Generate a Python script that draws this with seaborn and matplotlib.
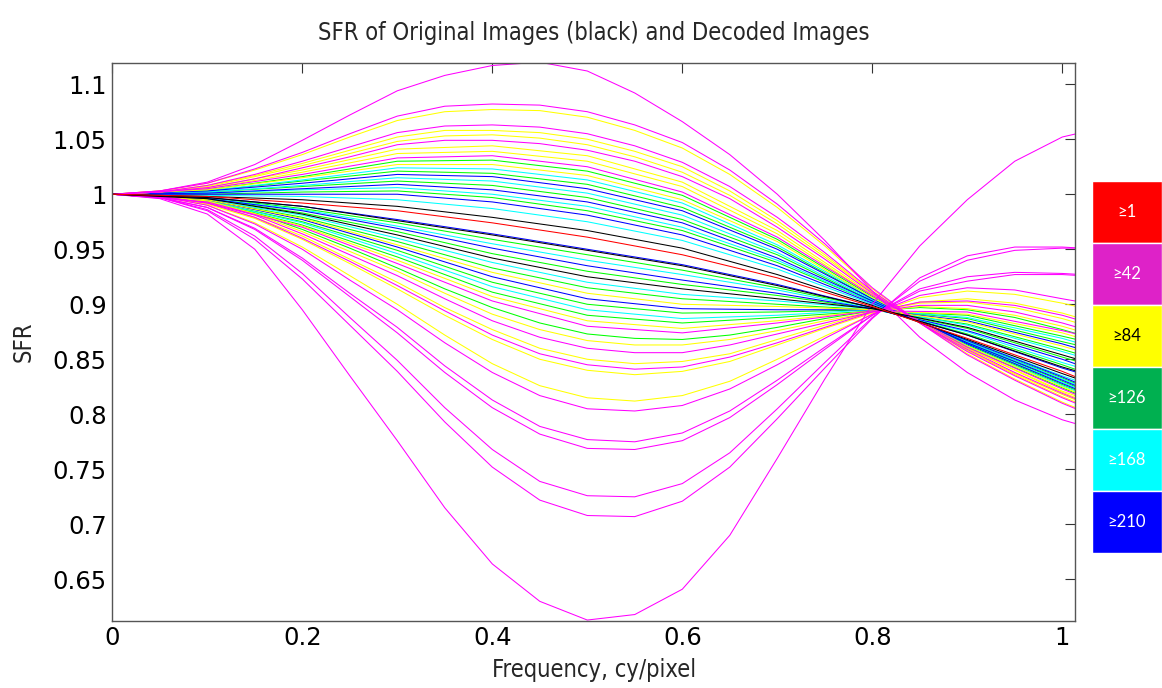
import matplotlib
matplotlib.use("Agg")
import matplotlib.pyplot as plt
import numpy as np
import pandas as pd
import seaborn as sns

# frequency grids (cy/pixel)
freq = [0, 0.1, 0.2, 0.3, 0.4, 0.5, 0.6, 0.7, 0.8, 0.9, 1.0, 1.02]
freq_fine = [0, 0.05, 0.1, 0.15, 0.2, 0.25, 0.3, 0.35, 0.4, 0.45, 0.5,
             0.55, 0.6, 0.65, 0.7, 0.75, 0.8, 0.85, 0.9, 0.95, 1.0, 1.02]

# strongly bent curves, read on the fine grid
magenta_fine = [
    [1.0, 1.003, 1.011, 1.027, 1.049, 1.072, 1.094, 1.108, 1.117, 1.12, 1.112,
     1.092, 1.066, 1.036, 1.0, .958, .912, .870, .838, .813, .795, .79],
    [1, 1.003, 1.010, 1.023, 1.038, 1.055, 1.071, 1.080, 1.082, 1.081, 1.075,
     1.063, 1.047, 1.022, .991, .955, .915, .883, .854, .831, .810, .803],
    [1, 1.002, 1.008, 1.018, 1.030, 1.043, 1.056, 1.062, 1.063, 1.061, 1.055,
     1.044, 1.029, 1.007, .979, .947, .912, .883, .857, .835, .815, .808],
    [1, 1.002, 1.006, 1.014, 1.024, 1.034, 1.045, 1.049, 1.049, 1.046, 1.040,
     1.030, 1.016, .996, .970, .941, .910, .883, .859, .838, .819, .812],
    [1, .998, .992, .981, .964, .945, .926, .905, .885, .870, .860,
     .856, .856, .863, .873, .883, .893, .899, .899, .893, .883, .878],
    [1, .998, .992, .979, .960, .939, .917, .894, .872, .855, .845,
     .841, .843, .852, .865, .879, .893, .902, .903, .899, .890, .885],
    [1, .998, .990, .973, .950, .922, .895, .865, .838, .817, .805,
     .803, .808, .823, .845, .869, .891, .908, .915, .913, .905, .902],
    [1.0, .997, .988, .969, .942, .910, .879, .844, .813, .789, .777,
     .775, .783, .803, .831, .861, .890, .912, .921, .927, .927, .926],
    [1.0, .997, .988, .968, .940, .907, .874, .838, .806, .782, .769,
     .768, .776, .797, .827, .859, .890, .914, .925, .929, .928, .927],
    [1.0, .997, .986, .962, .928, .888, .849, .806, .768, .739, .726,
     .725, .737, .765, .805, .847, .888, .921, .940, .949, .951, .951],
    [1.0, .997, .985, .959, .923, .881, .839, .793, .752, .722, .708,
     .707, .721, .752, .796, .842, .887, .924, .944, .952, .952, .951],
    [1.0, .996, .982, .950, .895, .835, .776, .715, .664, .630, .613,
     .618, .641, .690, .760, .832, .900, .953, .995, 1.03, 1.052, 1.056],
]
yellow_fine = [
    [1, 1.003, 1.010, 1.022, 1.036, 1.052, 1.067, 1.075, 1.077, 1.076, 1.070,
     1.058, 1.042, 1.018, .988, .953, .914, .883, .855, .832, .811, .804],
    [1, 1.002, 1.008, 1.017, 1.028, 1.040, 1.052, 1.058, 1.058, 1.056, 1.050,
     1.039, 1.025, 1.003, .976, .945, .911, .883, .858, .836, .816, .809],
    [1, 1.002, 1.007, 1.016, 1.026, 1.037, 1.048, 1.053, 1.054, 1.051, 1.045,
     1.034, 1.020, .999, .973, .943, .911, .883, .858, .837, .818, .811],
    [1, .998, .993, .982, .966, .948, .930, .910, .891, .877, .867,
     .863, .863, .868, .876, .885, .893, .898, .896, .890, .880, .875],
    [1, .998, .992, .979, .962, .941, .920, .897, .877, .860, .850,
     .846, .848, .855, .868, .881, .893, .901, .902, .897, .887, .882],
    [1, .998, .991, .978, .959, .937, .914, .890, .868, .850, .840,
     .836, .839, .848, .863, .878, .892, .902, .905, .901, .892, .887],
    [1, .998, .990, .974, .952, .926, .900, .872, .846, .826, .815,
     .812, .817, .830, .850, .871, .891, .906, .912, .909, .901, .897],
]
green_fine = [
    [1, .998, .993, .983, .968, .951, .933, .914, .897, .883, .873,
     .869, .868, .872, .879, .887, .894, .897, .895, .888, .877, .872],
]

# gentler curves, read on the coarse grid, grouped by colour
magenta = [
    [1, 1.005, 1.018, 1.033, 1.035, 1.025, 1.002, .961, .908, .861, .823, .816],
    [1, .993, .970, .937, .903, .880, .874, .883, .894, .893, .876, .872],
]
yellow = [
    [1, 1.006, 1.022, 1.041, 1.044, 1.035, 1.011, .967, .909, .860, .820, .813],
    [1, 1.005, 1.020, 1.037, 1.039, 1.030, 1.007, .964, .908, .860, .821, .815],
    [1, 1.004, 1.015, 1.027, 1.027, 1.017, .995, .957, .906, .862, .825, .818],
    [1, .995, .978, .954, .929, .910, .900, .898, .895, .884, .862, .857],
    [1, .994, .971, .940, .907, .885, .878, .885, .894, .891, .874, .869],
]
green = [
    [1, 1.004, 1.016, 1.030, 1.031, 1.021, .999, .959, .907, .861, .824, .817],
    [1, 1.003, 1.012, 1.021, 1.019, 1.009, .988, .952, .905, .863, .827, .820],
    [1, 1.002, 1.007, 1.012, 1.008, .997, .977, .945, .903, .865, .830, .823],
    [1, 1.0, 1.002, 1.003, .997, .985, .967, .938, .902, .866, .833, .826],
    [1, .997, .987, .974, .959, .945, .931, .915, .897, .873, .845, .839],
    [1, .996, .983, .966, .946, .930, .918, .908, .896, .878, .852, .847],
    [1, .995, .979, .957, .933, .915, .905, .900, .895, .882, .859, .854],
    [1, .994, .975, .949, .920, .900, .892, .893, .895, .887, .866, .862],
    [1, .994, .972, .943, .911, .890, .883, .888, .894, .890, .871, .867],
]
cyan = [
    [1, 1.003, 1.013, 1.024, 1.023, 1.013, .992, .954, .906, .862, .826, .819],
    [1, 1.002, 1.008, 1.015, 1.012, 1.001, .981, .947, .904, .864, .829, .822],
    [1, 1.001, 1.004, 1.006, 1.000, .989, .970, .940, .902, .866, .832, .825],
    [1, .999, .998, .995, .987, .975, .958, .932, .900, .867, .835, .829],
    [1, .996, .986, .971, .955, .940, .927, .913, .896, .875, .847, .842],
    [1, .995, .981, .960, .938, .920, .909, .903, .896, .881, .857, .852],
    [1, .994, .974, .946, .916, .895, .887, .890, .895, .888, .869, .864],
]
blue = [
    [1, 1.003, 1.010, 1.018, 1.016, 1.005, .985, .950, .905, .864, .828, .821],
    [1, 1.001, 1.005, 1.009, 1.004, .993, .974, .942, .903, .865, .831, .824],
    [1, 1.0, 1.0, 1.0, .993, .981, .963, .935, .901, .867, .834, .827],
    [1, .997, .989, .977, .964, .950, .936, .918, .897, .872, .842, .837],
    [1, .996, .985, .969, .951, .935, .922, .910, .896, .876, .850, .844],
    [1, .995, .977, .952, .925, .905, .896, .895, .895, .885, .864, .859],
]
black = [
    [1, .998, .995, .989, .979, .967, .951, .927, .899, .868, .837, .831],
    [1, .997, .989, .976, .963, .949, .935, .917, .897, .872, .843, .838],
    [1, .996, .982, .963, .942, .925, .914, .905, .896, .879, .854, .849],
]
red = [
    [1, .998, .992, .985, .974, .961, .945, .924, .898, .869, .839, .832],
]

line_colors = {"green": "#00FF00", "cyan": "#00FFFF", "blue": "#0000FF",
               "yellow": "#FFFF00", "magenta": "#FF00FF", "black": "#000000",
               "red": "#FF0000"}

legend_labels = ["\u22651", "\u226542", "\u226584", "\u2265126", "\u2265168", "\u2265210"]
legend_colors = ["#FF0000", "#DE22C8", "#FFFF00", "#00B050", "#00FFFF", "#0000FF"]
legend_text = ["white", "white", "black", "white", "white", "white"]

# long table, in drawing order
rows = []
groups = [("green", green, freq), ("green", green_fine, freq_fine),
          ("cyan", cyan, freq), ("blue", blue, freq),
          ("yellow", yellow, freq), ("yellow", yellow_fine, freq_fine),
          ("magenta", magenta, freq), ("magenta", magenta_fine, freq_fine),
          ("black", black, freq), ("red", red, freq)]
for cname, curves, grid in groups:
    for vals in curves:
        cid = "c%03d" % len(rows)
        rows.append(pd.DataFrame({"freq": grid, "sfr": vals, "curve": cid, "color": cname}))
df = pd.concat(rows, ignore_index=True)
palette = {c: line_colors[g] for c, g in df.groupby("curve")["color"].first().items()}
order = list(dict.fromkeys(df["curve"]))

sns.set_style("white")
plt.rcParams["font.family"] = ["DejaVu Sans"]

fig = plt.figure(figsize=(11.62, 6.88), dpi=100)
ax = fig.add_axes([112.3 / 1162, 1 - 620.7 / 688, (1075 - 112.3) / 1162, (620.7 - 63.3) / 688])

sns.lineplot(data=df, x="freq", y="sfr", hue="curve", hue_order=order, palette=palette,
             units="curve", estimator=None, sort=False, legend=False, linewidth=0.75, ax=ax)

ax.set_xlim(0, 1.0134)
ax.set_ylim(0.6124, 1.119)
xt = [0, 0.2, 0.4, 0.6, 0.8, 1.0]
yt = [0.65, 0.7, 0.75, 0.8, 0.85, 0.9, 0.95, 1.0, 1.05, 1.1]
ax.set_xticks(xt)
ax.set_xticklabels(["%g" % v for v in xt])
ax.set_yticks(yt)
ax.set_yticklabels(["%g" % v for v in yt])
ax.tick_params(direction="in", length=7, width=0.8, colors="#333333", labelcolor="black",
               labelsize=17.5, top=True, right=True, pad=4)
for s in ax.spines.values():
    s.set_color("#555555")
    s.set_linewidth(1.0)

cond = dict(family="DejaVu Sans", fontstretch="condensed")
ax.set_title("SFR of Original Images (black) and Decoded Images", fontsize=17, pad=17, **cond)
ax.set_xlabel("Frequency, cy/pixel", fontsize=17, labelpad=5.5, **cond)
ax.set_ylabel("SFR", fontsize=17, labelpad=12, **cond)

# colour key on the right
kax = fig.add_axes([1091.7 / 1162, 1 - 553 / 688, (1162 - 1091.7) / 1162, (553 - 181) / 688])
ypos = np.arange(len(legend_labels))
kax.barh(ypos, [1] * len(ypos), height=1.0, color=legend_colors, left=0)
for y, lab, tc in zip(ypos, legend_labels, legend_text):
    kax.text(0.5, y, lab, ha="center", va="center", color=tc, fontsize=12,
             family=["Lato", "DejaVu Sans"])
kax.set_xlim(0, 1)
kax.set_ylim(len(ypos) - 0.5, -0.5)
kax.axis("off")

fig.savefig("out.png", dpi=100)
